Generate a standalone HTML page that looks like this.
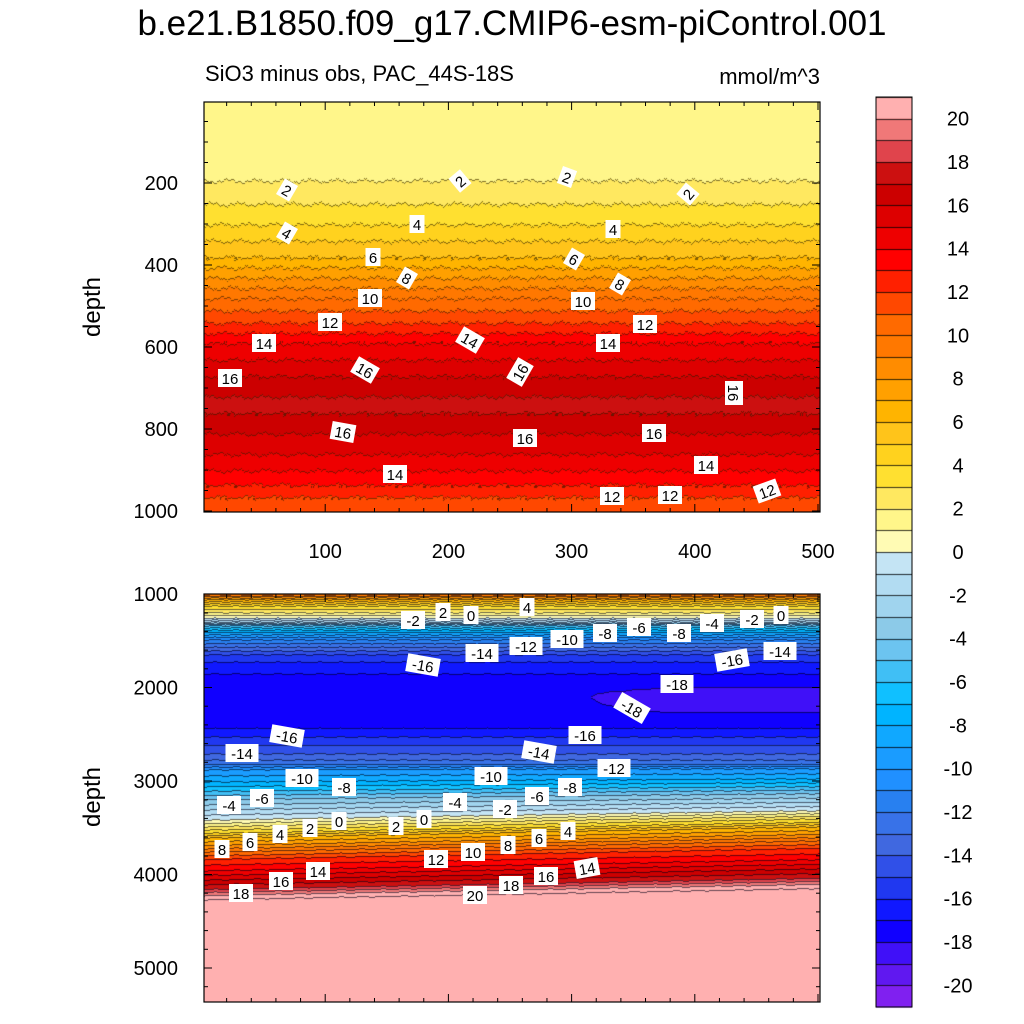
<!DOCTYPE html>
<html><head><meta charset="utf-8">
<style>
html,body{margin:0;padding:0;background:#fff;width:1024px;height:1024px;overflow:hidden}
#wrap{position:relative;width:1024px;height:1024px;font-family:"Liberation Sans",sans-serif}
canvas{position:absolute;left:0;top:0}
svg{position:absolute;left:0;top:0}
</style></head>
<body>
<div id="wrap">
<canvas id="cv" width="1024" height="1024"></canvas>
<svg id="sv" width="1024" height="1024"></svg>
</div>
<script>
// ---- data ----
const topDepths = [0,170,193,250,300,340,380,430,480,540,590,630,670,720,760,810,860,900,935,965,1000];
const topValues = [1.5,1.5,2,3,4,5,6,8,10,12,14,15,16,17,17,16,15,14,13,12,11.5];
const botDepths = [1000,1050,1120,1190,1250,1290,1330,1400,1480,1560,1640,1720,1910,2050,2250,2380,2520,2700,2800,2870,3000,3100,3190,3300,3410,3480,3550,3600,3680,3750,3830,3950,4050,4150,4215,4260,5400];
const botValues = [10,7,4,2,0,-2,-5,-8,-11,-13,-15,-16,-17.5,-17.85,-17.85,-17.5,-16,-14,-12.5,-10,-8,-6,-4,-2,0,2,4,6,8,10,12,14,16,18,20,21,21];
const posColors = ["#ffb0b0","#f07878","#e0444c","#cc1010","#cc0000","#dd0000","#ee0000","#ff0000","#ff2000","#ff4800","#ff6a00","#ff7800","#ff8c00","#ffa000","#ffb400","#ffc41a","#ffd21e","#ffe030","#ffe860","#fff68a","#fffbb4"];
const negColors = ["#c4e4f4","#b2dcf2","#a0d4ee","#8ccae8","#6cc4f0","#40bff5","#10c0ff","#00b4ff","#10a8ff","#1a9cff","#2090ff","#2880f0","#3872e8","#4068e0","#3050e8","#2038f0","#1018ff","#1000ff","#4010f8","#6018f0","#8020f0"];
const xTicks = [100,200,300,400,500];
const topYTicks = [200,400,600,800,1000];
const botYTicks = [1000,2000,3000,4000,5000];
const cbLabels = [20,18,16,14,12,10,8,6,4,2,0,-2,-4,-6,-8,-10,-12,-14,-16,-18,-20];
const topLabels = [[2,287,190,30],[2,460,181,-40],[2,567,177,20],[2,688,194,-50],[4,287,233,30],[4,417,224,0],[4,613,229,0],[6,373,257,0],[6,574,259,30],[8,407,278,30],[8,620,284,30],[10,370,298,0],[10,583,301,0],[12,330,322,0],[12,645,324,0],[14,264,343,0],[14,470,340,30],[14,608,343,0],[16,230,378,0],[16,365,370,30],[16,520,372,-60],[16,734,393,90],[16,343,432,10],[16,525,438,0],[16,654,433,0],[14,395,474,0],[14,706,465,0],[12,612,496,0],[12,670,495,0],[12,767,491,-20]];
const botLabels = [[-2,413,620,0],[2,443,612,0],[0,471,615,0],[4,527,607,0],[-2,752,619,0],[0,781,615,0],[-4,712,623,0],[-8,679,633,0],[-6,639,627,0],[-8,605,633,0],[-10,567,639,0],[-12,526,646,0],[-14,482,653,0],[-16,423,665,10],[-16,732,660,-10],[-14,780,651,0],[-18,677,684,0],[-18,632,708,30],[-16,287,736,10],[-16,585,735,0],[-14,242,753,0],[-14,539,752,10],[-12,614,768,0],[-10,302,778,0],[-10,491,776,0],[-8,344,787,0],[-8,570,787,0],[-6,262,798,0],[-6,537,796,0],[-4,229,805,0],[-4,455,802,0],[-2,505,809,0],[0,339,821,0],[0,424,819,0],[2,310,828,0],[2,396,826,0],[4,280,834,0],[4,568,831,0],[6,250,842,0],[6,539,838,0],[8,222,849,0],[8,508,845,0],[10,473,852,0],[12,436,859,0],[14,318,871,0],[14,587,868,-10],[16,281,881,0],[16,546,876,0],[18,241,893,0],[18,511,885,0],[20,475,895,0]];

// ---- geometry ----
const PX0=204, PX1=820;
const xs = v => 202 + (v/500)*(818-202);
const T0=102, T1=512;
const ytop = d => 101 + d*0.41;
const B0=594, B1=1002;
const ybot = d => 594 + (d-1000)*0.0935;
const CBX=876, CBW=36, CBT=97, CBB=1007, CBH=(CBB-CBT)/42;

function interp(ds, vs, d){
  if(d<=ds[0]) return vs[0];
  for(let i=1;i<ds.length;i++){ if(d<=ds[i]){ const t=(d-ds[i-1])/(ds[i]-ds[i-1]); return vs[i-1]+t*(vs[i]-vs[i-1]); } }
  return vs[vs.length-1];
}
function colorFor(v){
  if(v>=0){ let i=20-Math.floor(v); if(i<0)i=0; if(i>20)i=20; return posColors[i]; }
  let j=Math.floor(-v); if(j>20)j=20; return negColors[j];
}
const lvl = v => Math.floor(v);

const cv=document.getElementById('cv'), ctx=cv.getContext('2d');
function wig(x,k){ return Math.sin(x*0.9+k)*1.0+Math.sin(x*0.23+k*2)*1.4+Math.sin(x*2.7+k)*0.5; }
for(let x=PX0;x<PX1;x++){
  let prev=null;
  for(let y=T0;y<T1;y++){
    const k=Math.floor((y-T0)/12);
    const d=(y+wig(x,k)-101)/0.41;
    const v=interp(topDepths,topValues,d);
    const l=lvl(v);
    ctx.fillStyle=colorFor(v); ctx.fillRect(x,y,1,1);
    if(prev!==null && l!==prev){ ctx.fillStyle='rgba(40,30,0,0.6)'; ctx.fillRect(x,y,1,1); }
    prev=l;
  }
}
for(let x=PX0;x<PX1;x++){
  const fx=(x-PX0)/(PX1-PX0);
  let prev=null;
  for(let y=B0;y<B1;y++){
    let d=(y+Math.sin(x*0.3)*0.4-594)/0.0935+1000;
    const bl=Math.max(0,Math.min(1,(d-2800)/600));
    d=d+fx*120*bl;
    let v=interp(botDepths,botValues,d);
    const bump=Math.max(0,1-Math.abs(d-2100)/220);
    v -= 0.6*Math.max(0,Math.min(1,(x-560)/120))*bump;
    const l=lvl(v);
    ctx.fillStyle=colorFor(v); ctx.fillRect(x,y,1,1);
    if(prev!==null && l!==prev){ ctx.fillStyle='rgba(0,0,20,0.6)'; ctx.fillRect(x,y,1,1); }
    prev=l;
  }
}
for(let i=0;i<42;i++){
  const c = i<21 ? posColors[i] : negColors[i-21];
  ctx.fillStyle=c; ctx.fillRect(CBX, CBT+i*CBH, CBW, CBH+0.5);
  ctx.fillStyle='rgba(0,0,0,0.8)'; ctx.fillRect(CBX, Math.round(CBT+i*CBH), CBW, 1);
}

// ---- SVG overlay ----
const NS='http://www.w3.org/2000/svg', sv=document.getElementById('sv');
function el(tag, attrs, parent){ const e=document.createElementNS(NS,tag); for(const k in attrs) e.setAttribute(k,attrs[k]); (parent||sv).appendChild(e); return e; }
function txt(s,x,y,size,anchor,parent){ const t=el('text',{x:x,y:y,'font-size':size,'text-anchor':anchor||'middle','font-family':'Liberation Sans, sans-serif',fill:'#000'},parent); t.textContent=s; return t; }

let t=txt('b.e21.B1850.f09_g17.CMIP6-esm-piControl.001',512,35,35);


t=txt('SiO3 minus obs, PAC_44S-18S',205,81,22,'start');


t=txt('mmol/m^3',820,84,22,'end');



function axisTitle(y,name){
  const a=txt('depth',0,0,24);
  a.setAttribute('transform','translate(100,'+y+') rotate(-90)');
  
  
}
axisTitle(307,'top-y-axis-title');
axisTitle(797,'bottom-y-axis-title');

function frame(y0,y1,name){
  const r=el('rect',{x:PX0,y:y0,width:PX1-PX0,height:y1-y0,fill:'none',stroke:'#000','stroke-width':1.2});
  
  
  for(let v=0;v<=500;v+=20){
    const x=xs(v); if(x<PX0||x>PX1) continue;
    const major = v%100===0, len = major?8:4;
    el('line',{x1:x,x2:x,y1:y1,y2:y1-len,stroke:'#000','stroke-width':1});
    el('line',{x1:x,x2:x,y1:y0,y2:y0+len,stroke:'#000','stroke-width':1});
  }
}
frame(T0,T1,'top-plot-frame');
frame(B0,B1,'bottom-plot-frame');
for(let d=50;d<=1000;d+=50){
  const y=ytop(d), len = d%200===0?8:4;
  el('line',{x1:PX0,x2:PX0+len,y1:y,y2:y,stroke:'#000'});
  el('line',{x1:PX1,x2:PX1-len,y1:y,y2:y,stroke:'#000'});
}
for(let d=1000;d<=5300;d+=200){
  const y=ybot(d), len = d%1000===0?8:4;
  el('line',{x1:PX0,x2:PX0+len,y1:y,y2:y,stroke:'#000'});
  el('line',{x1:PX1,x2:PX1-len,y1:y,y2:y,stroke:'#000'});
}
topYTicks.forEach(v=>{ const a=txt(String(v),178,ytop(v)+7,20,'end');
  
   });
botYTicks.forEach(v=>{ const a=txt(String(v),178,ybot(v)+7,20,'end');
  
   });
xTicks.forEach(v=>{ const a=txt(String(v),xs(v),558,20);
  
   });

const cbf=el('rect',{x:CBX,y:CBT,width:CBW,height:CBB-CBT,fill:'none',stroke:'#000','stroke-width':1});


cbLabels.forEach(v=>{ const y=CBT+(21-v)*CBH; const a=txt(String(v),958,y+7,20);
  
   });

function clab(arr,name){
  arr.forEach(l=>{
    const g=el('g',{transform:'translate('+l[1]+','+l[2]+') rotate('+l[3]+')'});
    
    
    const s=String(l[0]); const w=s.length*9+6;
    el('rect',{x:-w/2,y:-9,width:w,height:18,fill:'#fff'},g);
    txt(s,0,6,15,'middle',g);
  });
}
clab(topLabels,'top-contour-label');
clab(botLabels,'bottom-contour-label');
</script>
</body></html>
